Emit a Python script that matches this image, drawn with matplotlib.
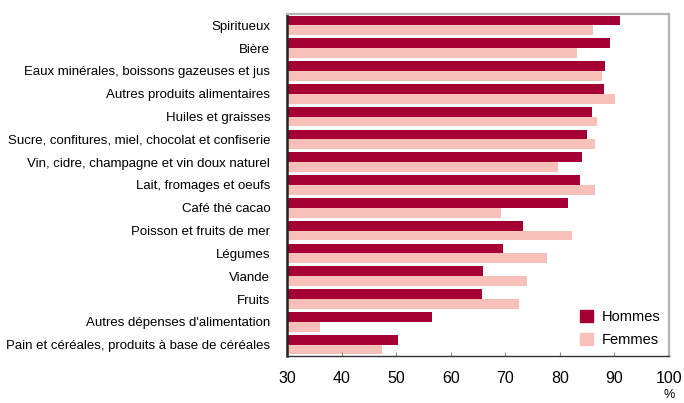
import numpy as np
import matplotlib.pyplot as plt
from matplotlib.patches import Patch

plt.rcParams['font.family'] = ['Liberation Sans', 'DejaVu Sans']

# données (part en %)
categories = [
    'Spiritueux',
    'Bière',
    'Eaux minérales, boissons gazeuses et jus',
    'Autres produits alimentaires',
    'Huiles et graisses',
    'Sucre, confitures, miel, chocolat et confiserie',
    'Vin, cidre, champagne et vin doux naturel',
    'Lait, fromages et oeufs',
    'Café thé cacao',
    'Poisson et fruits de mer',
    'Légumes',
    'Viande',
    'Fruits',
    "Autres dépenses d'alimentation",
    'Pain et céréales, produits à base de céréales',
]
hommes = [91.0, 89.2, 88.3, 88.1, 85.9, 85.0, 84.1, 83.7, 81.5, 73.2, 69.6, 65.9, 65.7, 56.6, 50.3]
femmes = [86.1, 83.1, 87.7, 90.1, 86.8, 86.4, 79.7, 86.4, 69.2, 82.2, 77.6, 74.0, 72.5, 36.0, 47.4]
xticks = [30, 40, 50, 60, 70, 80, 90, 100]

c_h = '#A50034'
c_f = '#F9C0B9'

fig = plt.figure(figsize=(6.84, 4.03), dpi=100)
ax = fig.add_axes([287 / 684, 1 - 356 / 403, 382 / 684, 342 / 403])

n = len(categories)
y = np.arange(n)
h = 0.43
ax.barh(y - h / 2, np.array(hommes) - 30, h, left=30, color=c_h)
ax.barh(y + h / 2, np.array(femmes) - 30, h, left=30, color=c_f)

ax.set_xlim(30, 100)
ax.set_ylim(n - 0.5, -0.5)
ax.set_yticks(y)
ax.set_yticklabels(categories, fontsize=9.5)
ax.tick_params(axis='y', length=0, pad=12)
ax.set_xticks(xticks)
ax.set_xticklabels([str(v) for v in xticks], fontsize=11.5)
ax.tick_params(axis='x', direction='in', length=3, width=0.8, color='#888888', pad=11)

ax.spines['left'].set_color('#222222')
ax.spines['left'].set_linewidth(1.8)
ax.spines['bottom'].set_color('#333333')
ax.spines['bottom'].set_linewidth(1.0)
ax.spines['top'].set_color('#b4b4b4')
ax.spines['top'].set_linewidth(1.6)
ax.spines['right'].set_color('#b4b4b4')
ax.spines['right'].set_linewidth(1.6)

fig.text(669 / 684, 2 / 403, '%', ha='center', va='bottom', fontsize=9)

handles = [Patch(color=c_h, label='Hommes'), Patch(color=c_f, label='Femmes')]
ax.legend(handles=handles, loc='lower right', frameon=False, fontsize=10.5,
          handlelength=0.9, handleheight=0.9, handletextpad=0.6, labelspacing=0.6,
          borderaxespad=0.2, bbox_to_anchor=(1.0, 0.0))

fig.savefig('out.png', dpi=100)
